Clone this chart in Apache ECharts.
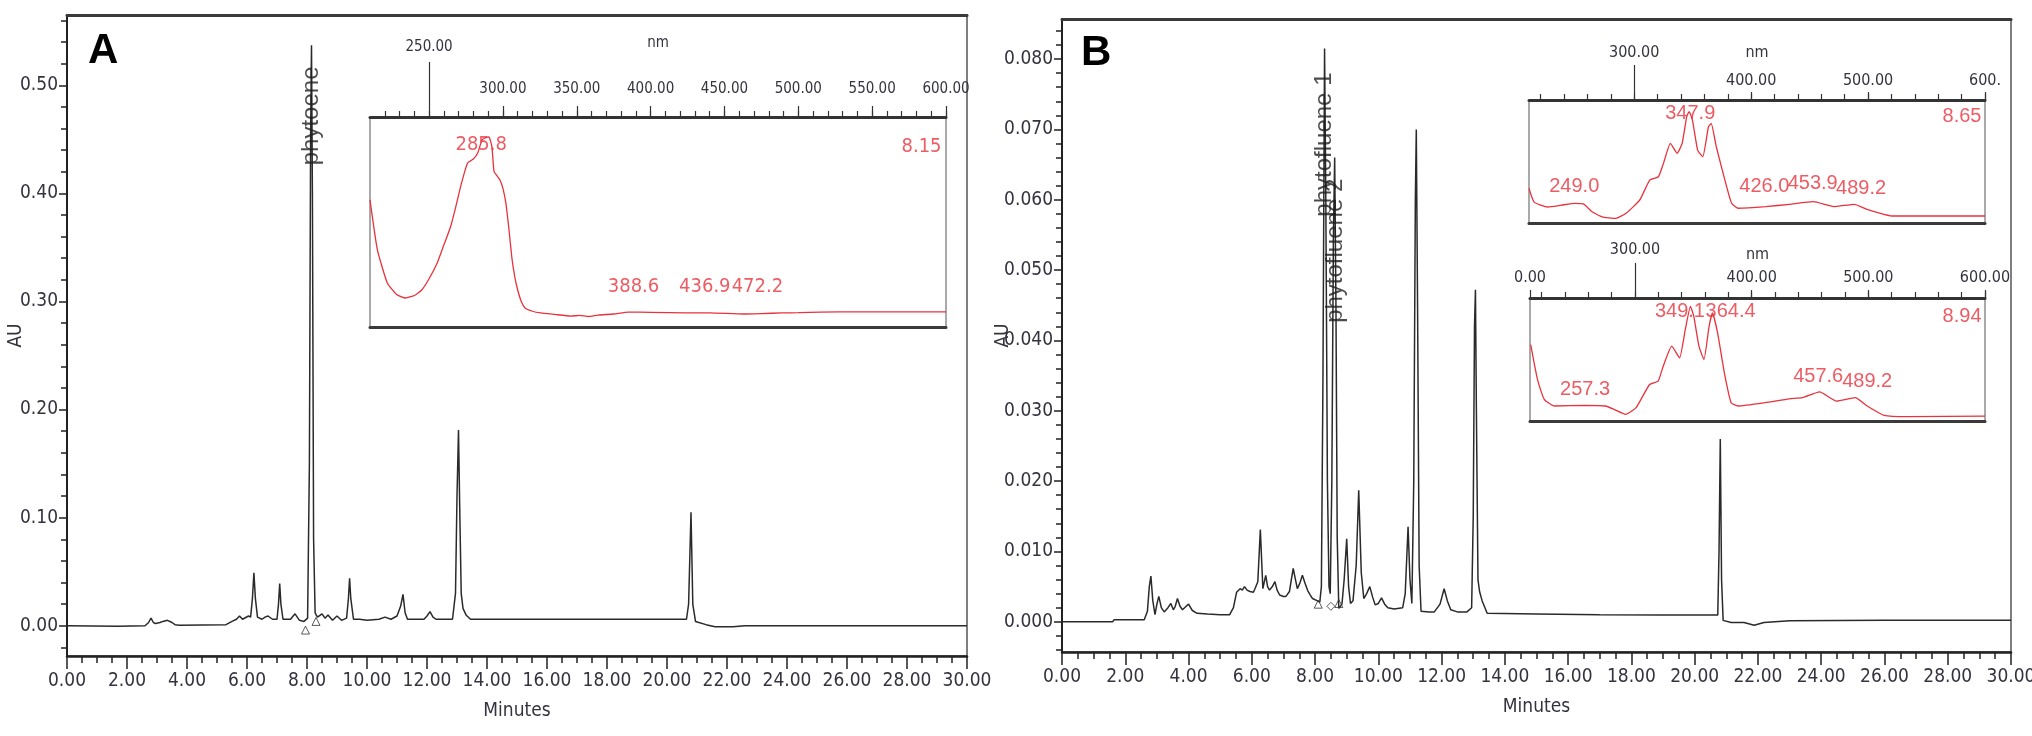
<!DOCTYPE html>
<html><head><meta charset="utf-8">
<script src="https://cdn.jsdelivr.net/npm/echarts@6/dist/echarts.min.js"></script>
<style>html,body{margin:0;padding:0;background:#fff}#c{width:2032px;height:736px}</style>
</head><body><div id="c"></div>
<script>
// ---------- Panel A chromatogram (Minutes, AU) ----------
const aTime = [0,1.7,2.6,2.72,2.8,2.88,2.95,3.1,3.2,3.35,3.5,3.6,3.75,5.3,5.5,5.65,5.75,5.85,5.9,6.05,6.12,6.18,6.23,6.28,6.35,6.5,6.6,6.7,6.85,7.0,7.05,7.09,7.13,7.2,7.45,7.6,7.75,7.9,8.02,8.08,8.12,8.15,8.18,8.22,8.27,8.35,8.5,8.6,8.7,8.85,9.0,9.15,9.32,9.38,9.42,9.46,9.55,9.75,10.0,10.4,10.6,10.8,11.0,11.12,11.2,11.27,11.35,11.9,12.0,12.1,12.2,12.3,12.85,12.95,13.0,13.05,13.09,13.14,13.2,13.3,13.45,20.65,20.72,20.8,20.86,20.95,21.3,21.6,22.2,22.6,30];
const aAU   = [0,-0.0005,0,0.003,0.007,0.003,0.002,0.003,0.004,0.005,0.003,0.001,0.0005,0.001,0.004,0.006,0.009,0.006,0.005,0.009,0.008,0.025,0.049,0.025,0.008,0.006,0.008,0.009,0.006,0.006,0.02,0.039,0.02,0.006,0.006,0.011,0.005,0.004,0.007,0.15,0.45,0.537,0.40,0.08,0.012,0.008,0.011,0.007,0.01,0.005,0.009,0.005,0.007,0.025,0.044,0.025,0.006,0.006,0.005,0.006,0.008,0.006,0.009,0.018,0.029,0.012,0.006,0.006,0.009,0.013,0.008,0.006,0.006,0.03,0.12,0.181,0.11,0.03,0.016,0.01,0.006,0.006,0.02,0.105,0.02,0.004,0.001,-0.001,-0.001,0,0];
const aPeakNames = ['phytoene'];
const aPeakTime  = [8.13];
const aPeakLabelAU = [0.426];
const aMarkTime = [7.95, 8.3];
const aMarkAU   = [-0.004, 0.004];

// ---------- Panel B chromatogram ----------
const bTime = [0,1.6,1.65,2.6,2.7,2.76,2.81,2.87,2.94,3.0,3.06,3.14,3.23,3.35,3.44,3.52,3.58,3.65,3.73,3.81,3.9,4.0,4.12,4.27,4.6,5.0,5.3,5.42,5.52,5.63,5.7,5.77,5.85,5.94,6.05,6.1,6.19,6.27,6.35,6.44,6.5,6.56,6.65,6.73,6.8,6.88,7.0,7.08,7.19,7.25,7.31,7.38,7.44,7.52,7.6,7.68,7.77,7.85,7.92,8.06,8.15,8.2,8.25,8.3,8.34,8.39,8.44,8.48,8.53,8.58,8.62,8.66,8.7,8.75,8.85,8.92,9.0,9.06,9.12,9.2,9.3,9.38,9.46,9.54,9.63,9.73,9.82,9.9,10.0,10.1,10.2,10.3,10.5,10.77,10.85,10.94,11.0,11.06,11.12,11.17,11.2,11.24,11.29,11.35,11.6,11.77,11.95,12.08,12.18,12.29,12.5,12.8,12.95,13.0,13.04,13.07,13.1,13.15,13.2,13.28,13.44,15,17,19,20.73,20.77,20.81,20.85,20.9,21.15,21.56,21.88,22.19,23.0,26,30];
const bAU   = [0,0,0.0003,0.0003,0.0015,0.005,0.0065,0.003,0.001,0.0025,0.0036,0.002,0.0014,0.002,0.0026,0.0017,0.0022,0.0033,0.0022,0.0017,0.0021,0.0025,0.0016,0.0012,0.0011,0.001,0.001,0.002,0.0042,0.0047,0.0045,0.005,0.0045,0.0043,0.0042,0.0047,0.0057,0.0131,0.0047,0.0066,0.005,0.0045,0.005,0.0057,0.0045,0.0038,0.0036,0.0036,0.0043,0.006,0.0076,0.006,0.0047,0.0055,0.0066,0.0055,0.0044,0.0038,0.0033,0.003,0.0028,0.005,0.035,0.0815,0.06,0.02,0.005,0.004,0.02,0.055,0.066,0.045,0.012,0.0019,0.0025,0.006,0.0118,0.005,0.0026,0.003,0.008,0.0187,0.007,0.0033,0.004,0.005,0.0035,0.0024,0.0026,0.0034,0.0025,0.002,0.0018,0.002,0.004,0.0135,0.006,0.0026,0.02,0.06,0.070,0.045,0.008,0.0015,0.0014,0.0014,0.0025,0.0047,0.003,0.0017,0.0014,0.0014,0.002,0.015,0.042,0.0472,0.03,0.006,0.0043,0.003,0.0012,0.0011,0.001,0.00095,0.00095,0.01,0.026,0.006,0.0002,-0.0001,-0.0001,-0.0005,-0.0001,0.00015,0.0002,0.0002];
const bPeakNames = ['phytofluene 1','phytofluene 2'];
const bPeakTime  = [8.31, 8.64];
const bPeakLabelAU = [0.0576, 0.0425];
const bMarkTime = [8.1, 8.5, 8.75];
const bMarkAU   = [0.0025, 0.0022, 0.0026];
const bMarkShape = ['triangle','diamond','triangle'];

// ---------- Inset spectra (nm, relative absorbance 0..1 of the inset box) ----------
const specA_nm  = [210,215,221.7,228,234,240,245,250,255.5,260,264.5,268,272,276,280,283,285.8,288,290.5,292.5,294,296,298,300,302,304,306,308,310,312.5,315,320,325.6,335,346,352,358,364.5,375,385,400,424,440,463,475,489,500,515,540,560,580,600];
const specA_abs = [0.605,0.367,0.21,0.155,0.138,0.15,0.176,0.23,0.305,0.39,0.476,0.57,0.686,0.78,0.80,0.83,0.89,0.90,0.905,0.86,0.74,0.72,0.70,0.66,0.59,0.47,0.333,0.24,0.176,0.12,0.09,0.075,0.067,0.06,0.052,0.055,0.05,0.057,0.062,0.071,0.07,0.067,0.067,0.062,0.064,0.067,0.068,0.071,0.072,0.072,0.072,0.072];
const specA_lblText = ['285.8','388.6','436.9','472.2'];
const specA_lblNm   = [285.3,388.4,436.7,472.3];
const specA_lblAbs  = [0.867,0.19,0.19,0.19];
const specA_rt = '8.15';

const specB1_nm  = [210,214.4,226,237.7,249.3,256.6,263.9,272.6,284.3,293,304.7,313.4,320.7,325,330.9,336.7,341,344.9,346.9,349.8,354.2,358.6,363.5,365.8,370.2,377.5,383.3,389,412.4,432.8,453.2,470.7,488.2,499.8,520.2,563.9,600];
const specB1_abs = [0.28,0.17,0.13,0.145,0.16,0.155,0.092,0.05,0.038,0.079,0.187,0.35,0.376,0.485,0.648,0.567,0.648,0.865,0.905,0.837,0.593,0.539,0.783,0.81,0.62,0.35,0.16,0.12,0.133,0.152,0.173,0.133,0.152,0.108,0.057,0.057,0.057];
const specB1_lblText = ['347.9','249.0','426.0','453.9','489.2'];
const specB1_lblNm   = [347.9,248.7,411.3,452.6,494];
const specB1_lblAbs  = [0.894,0.293,0.295,0.323,0.282];
const specB1_rt = '8.65';

const specB2_nm  = [210.6,216.4,222.2,231,257.2,274.7,282,292,300.9,312.5,319.8,324.2,331.5,338.2,343.1,347.5,350.4,354.8,359.1,363.5,366.4,370.8,376.6,382.4,388.3,411.6,432,443.6,458.2,472.7,488.8,499,513.5,533.9,600];
const specB2_abs = [0.62,0.338,0.176,0.122,0.127,0.122,0.095,0.054,0.108,0.297,0.324,0.446,0.608,0.514,0.743,0.932,0.851,0.608,0.5,0.77,0.878,0.716,0.392,0.149,0.122,0.149,0.18,0.19,0.236,0.162,0.19,0.122,0.046,0.036,0.04];
const specB2_lblText = ['349.1','364.4','257.3','457.6','489.2'];
const specB2_lblNm   = [338.5,381.9,257.2,457,499];
const specB2_lblAbs  = [0.891,0.891,0.257,0.365,0.324];
const specB2_rt = '8.94';

// ---------- Tick values ----------
const aYLabels = [0,0.1,0.2,0.3,0.4,0.5];
const bYLabels = [0,0.01,0.02,0.03,0.04,0.05,0.06,0.07,0.08];
const insetA_major = [300,350,400,450,500,550,600];
const insetA_raised = [250];
const insetB1_major = [400,500,600];
const insetB2_major = [210,400,500,600];
const insetB_raised = [300];

// ---------- helpers ----------
const zip = (a,b) => a.map((x,i)=>[x,b[i]]);
const steps = (from,to,st,dec) => { const r=[]; for(let k=0;from+k*st<=to+1e-9;k++) r.push(+(from+k*st).toFixed(dec)); return r; };
const FN = "'Liberation Sans Narrow','Arial Narrow','DejaVu Sans Condensed',sans-serif";
const FR = "'Liberation Sans',Arial,sans-serif";
const TXT = '#34343f';
const RED = '#e8323c';
const LINE = '#2a2a2a';

const grids = [
  {left:67,  top:15,  width:900, height:641, show:true, borderColor:'#555', borderWidth:1.5, outerBoundsMode:'none'},
  {left:1062,top:19,  width:949, height:633, show:true, borderColor:'#555', borderWidth:1.5, outerBoundsMode:'none'},
  {left:370, top:117, width:576, height:210, show:true, borderColor:'#555', borderWidth:1, backgroundColor:'#fff', outerBoundsMode:'none'},
  {left:1529,top:100, width:456, height:123, show:true, borderColor:'#555', borderWidth:1, backgroundColor:'#fff', outerBoundsMode:'none'},
  {left:1530,top:298, width:455, height:123, show:true, borderColor:'#555', borderWidth:1, backgroundColor:'#fff', outerBoundsMode:'none'}
];

function lineOnly(gi, pos, w, minV, maxV){
  return {type:'value', gridIndex:gi, position:pos, min:minV, max:maxV,
    axisLine:{show:true,onZero:false,lineStyle:{color:'#3a3a3a',width:w}},
    axisTick:{show:false}, axisLabel:{show:false}, splitLine:{show:false}};
}
function mainX(gi){
  return {type:'value', gridIndex:gi, position:'bottom', min:0, max:30, interval:2,
    name:'Minutes', nameLocation:'middle', nameGap:46, nameMoveOverlap:false,
    nameTextStyle:{fontFamily:FN,fontSize:19,color:TXT},
    axisLine:{show:true,onZero:false,lineStyle:{color:'#222',width:2.5}},
    axisTick:{show:true,length:13,lineStyle:{color:'#222',width:1.5}},
    minorTick:{show:true,splitNumber:4,length:7,lineStyle:{color:'#222',width:1.5}},
    axisLabel:{margin:16,fontFamily:FN,fontSize:19,color:TXT,formatter:v=>v.toFixed(2)},
    splitLine:{show:false}, minorSplitLine:{show:false}};
}
function mainY(gi,minV,maxV,labels,dec,gap){
  return {type:'value', gridIndex:gi, position:'left', min:minV, max:maxV,
    name:'AU', nameLocation:'middle', nameGap:gap, nameMoveOverlap:false,
    nameTextStyle:{fontFamily:FN,fontSize:19,color:TXT},
    axisLine:{show:true,onZero:false,lineStyle:{color:'#222',width:2}},
    axisTick:{show:true,length:8,customValues:labels,lineStyle:{color:'#222',width:1.5}},
    axisLabel:{show:true,margin:9,customValues:labels,fontFamily:FN,fontSize:19,color:TXT,formatter:v=>v.toFixed(dec)},
    splitLine:{show:false}};
}
function minorY(gi,minV,maxV,ticks){
  return {type:'value', gridIndex:gi, position:'left', min:minV, max:maxV,
    axisLine:{show:false,onZero:false},
    axisLabel:{show:false,customValues:ticks},
    axisTick:{show:true,length:6,customValues:ticks,lineStyle:{color:'#222',width:1.5}},
    splitLine:{show:false}};
}
function insetTicks(gi, ticks, len, w){
  return {type:'value', gridIndex:gi, position:'top', min:210, max:600,
    axisLine:{show:true,onZero:false,lineStyle:{color:'#333',width:w}},
    axisTick:{show:true,length:len,customValues:ticks,lineStyle:{color:'#333',width:1.2}},
    axisLabel:{show:false}, splitLine:{show:false}};
}
function insetLabels(gi, vals, len, margin, fs, fmt, nm, nmGap){
  const ax = {type:'value', gridIndex:gi, position:'top', min:210, max:600,
    axisLine:{show:false,onZero:false},
    axisTick:{show:len>0,length:len,customValues:vals,lineStyle:{color:'#333',width:1.2}},
    axisLabel:{show:true,customValues:vals,margin:margin,fontFamily:FN,fontSize:fs,color:TXT,formatter:fmt},
    splitLine:{show:false}};
  if (nm){ ax.name='nm'; ax.nameLocation='middle'; ax.nameGap=nmGap; ax.nameTextStyle={fontFamily:FN,fontSize:fs,color:TXT}; }
  return ax;
}
const f2 = v => v.toFixed(2);

const xAxis = [
  mainX(0),                                    //0
  lineOnly(0,'top',3,0,30),                    //1
  mainX(1),                                    //2
  lineOnly(1,'top',3,0,30),                    //3
  insetTicks(2, steps(220,600,10,0), 6, 3),    //4
  insetLabels(2, insetA_major, 11, 20, 15, f2, true, 66), //5
  insetLabels(2, insetA_raised, 55, 62, 15, f2, false),   //6
  lineOnly(2,'bottom',3,210,600),              //7
  insetTicks(3, steps(220,600,20,0), 6, 3),    //8
  insetLabels(3, insetB1_major, 8, 11, 16, v => v===600 ? '600.' : f2(v), true, 39), //9
  insetLabels(3, insetB_raised, 35, 39, 16, f2, false),   //10
  lineOnly(3,'bottom',3,210,600),              //11
  insetTicks(4, steps(220,600,20,0), 6, 3),    //12
  insetLabels(4, insetB2_major, 8, 12, 16, v => v===210 ? '0.00' : f2(v), true, 35), //13
  insetLabels(4, insetB_raised, 35, 40, 16, f2, false),   //14
  lineOnly(4,'bottom',3,210,600)               //15
];
const yAxis = [
  mainY(0,-0.028,0.565,aYLabels,2,41),                  //0
  minorY(0,-0.028,0.565,steps(-0.02,0.56,0.02,2)),      //1
  mainY(1,-0.0043,0.0857,bYLabels,3,49),                //2
  minorY(1,-0.0043,0.0857,steps(-0.004,0.084,0.002,3)), //3
  {type:'value',gridIndex:2,min:0,max:1,show:false},    //4
  {type:'value',gridIndex:3,min:0,max:1,show:false},    //5
  {type:'value',gridIndex:4,min:0,max:1,show:false}     //6
];

function chrom(xi, yi, t, v){
  return {type:'line', xAxisIndex:xi, yAxisIndex:yi, data:zip(t,v), symbol:'none', silent:true,
    lineStyle:{color:LINE,width:1.5}, animation:false, z:3};
}
function peakLabels(xi, yi, names, t, v){
  return {type:'scatter', xAxisIndex:xi, yAxisIndex:yi, symbolSize:0, silent:true, animation:false, z:5,
    data:names.map((n,i)=>({value:[t[i],v[i]], name:n})),
    label:{show:true, position:'inside', rotate:90, align:'left', verticalAlign:'middle',
      formatter:p=>p.name, fontFamily:FR, fontSize:24, color:'#1e1e1e'}};
}
function markers(xi, yi, t, v, shapes){
  return {type:'scatter', xAxisIndex:xi, yAxisIndex:yi, silent:true, animation:false, z:4,
    data:t.map((x,i)=>({value:[x,v[i]], symbol:shapes ? shapes[i] : 'triangle'})),
    symbolSize:8, itemStyle:{color:'rgba(255,255,255,0)',borderColor:'#333',borderWidth:1}};
}
function spectrum(xi, yi, nm, ab){
  return {type:'line', xAxisIndex:xi, yAxisIndex:yi, data:zip(nm,ab), symbol:'none', silent:true, smooth:0.15,
    lineStyle:{color:RED,width:1.3}, animation:false, z:3};
}
function specLabels(xi, yi, txt, nm, ab, ff, fs){
  return {type:'scatter', xAxisIndex:xi, yAxisIndex:yi, symbolSize:0, silent:true, animation:false, z:5,
    data:txt.map((s,i)=>({value:[nm[i],ab[i]], name:s})),
    label:{show:true, position:'inside', align:'center', verticalAlign:'middle',
      formatter:p=>p.name, fontFamily:ff, fontSize:fs, color:RED}};
}
function rtLabel(xi, yi, txt, ab, ff, fs){
  return {type:'scatter', xAxisIndex:xi, yAxisIndex:yi, symbolSize:0, silent:true, animation:false, z:5,
    data:[{value:[597,ab], name:txt}],
    label:{show:true, position:'inside', align:'right', verticalAlign:'middle',
      formatter:p=>p.name, fontFamily:ff, fontSize:fs, color:RED}};
}

const series = [
  chrom(0,0,aTime,aAU),
  markers(0,0,aMarkTime,aMarkAU),
  peakLabels(0,0,aPeakNames,aPeakTime,aPeakLabelAU),
  chrom(2,2,bTime,bAU),
  markers(2,2,bMarkTime,bMarkAU,bMarkShape),
  peakLabels(2,2,bPeakNames,bPeakTime,bPeakLabelAU),
  spectrum(4,4,specA_nm,specA_abs),
  specLabels(4,4,specA_lblText,specA_lblNm,specA_lblAbs,FN,20),
  rtLabel(4,4,specA_rt,0.857,FN,20),
  spectrum(8,5,specB1_nm,specB1_abs),
  specLabels(8,5,specB1_lblText,specB1_lblNm,specB1_lblAbs,FR,20),
  rtLabel(8,5,specB1_rt,0.862,FR,20),
  spectrum(12,6,specB2_nm,specB2_abs),
  specLabels(12,6,specB2_lblText,specB2_lblNm,specB2_lblAbs,FR,20),
  rtLabel(12,6,specB2_rt,0.851,FR,20)
];

const chart = echarts.init(document.getElementById('c'), null, {renderer:'canvas'});
chart.setOption({
  animation:false,
  backgroundColor:'#fff',
  title:[
    {text:'A', left:88, top:30, padding:0, textStyle:{fontFamily:FR,fontSize:42,fontWeight:'bold',color:'#000'}},
    {text:'B', left:1081, top:32, padding:0, textStyle:{fontFamily:FR,fontSize:42,fontWeight:'bold',color:'#000'}}
  ],
  grid:grids, xAxis:xAxis, yAxis:yAxis, series:series
});
</script></body></html>
